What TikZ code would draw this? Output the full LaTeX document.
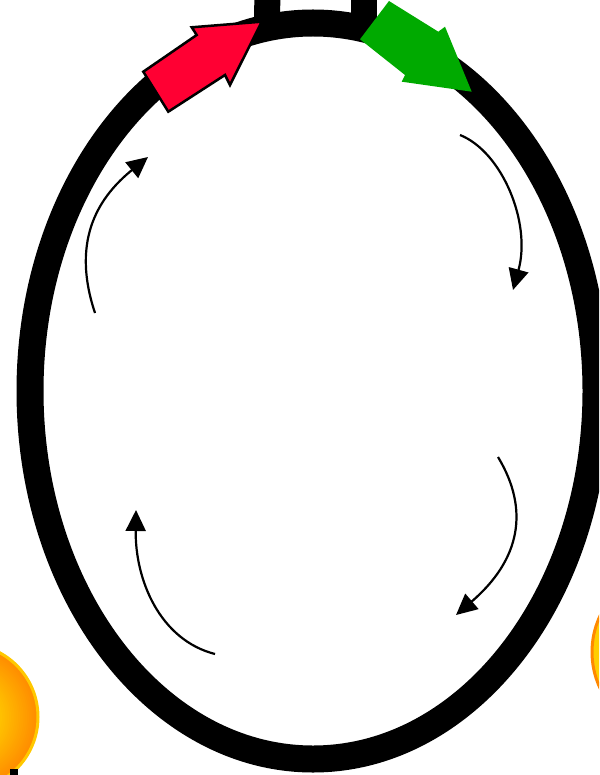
\documentclass[tikz,border=0pt]{standalone}
\usetikzlibrary{arrows.meta}
\definecolor{redarrow}{RGB}{255,0,51}
\definecolor{greenarrow}{RGB}{0,170,0}
\definecolor{orbyellow}{RGB}{255,192,0}
\definecolor{orborange}{RGB}{255,140,0}
\definecolor{orbrim}{RGB}{255,200,0}
\definecolor{orbrimorange}{RGB}{255,136,0}
\definecolor{orbfill}{RGB}{255,206,0}
\tikzset{
  ring/.style={line width=27pt, black},
  handle/.style={line width=26pt, black},
  flow/.style={line width=2.2pt, black, -{Triangle[length=21pt,width=20pt]}},
  redblock/.style={fill=redarrow, draw=black, line width=2.5pt, line join=miter},
  greenblock/.style={fill=greenarrow},
}
\begin{document}
\begin{tikzpicture}[x=1pt,y=-1pt]
\useasboundingbox (0,0) rectangle (599,775);
\clip (0,0) rectangle (599,775);
% orbs
\foreach \k in {0,...,20}{
  \pgfmathsetmacro\orbr{73-1.8*\k}
  \pgfmathtruncatemacro\orbp{5*\k}
  \fill[orbyellow!\orbp!orborange] (-35,717) circle (\orbr);
}
\draw[orbrim, line width=3pt] (-35,717) circle (73);
\fill[black] (10,769) rectangle (18,776);
\draw[fill=orbfill, draw=orbrimorange, line width=3pt] (677,652) circle (85);
% ring and handle
\draw[ring] (313,391) ellipse [x radius=283, y radius=368];
\draw[handle] (267.5,-20) -- (267,30);
\draw[handle] (364,-20) -- (364,30);
% block arrows
\filldraw[redblock] (261.7,21.7) -- (191.7,27.3) -- (196.7,35) -- (143.3,71.7)
  -- (168.3,111.7) -- (225,75) -- (230,85) -- cycle;
\fill[greenblock] (360,39.3) -- (389,1) -- (438.3,31.7) -- (445,26.7)
  -- (471.7,91.7) -- (401.7,81.7) -- (405,75) -- cycle;
% flow arrows
\coordinate (a1s) at (95,313);
\coordinate (a1e) at (148,157);
\coordinate (a2s) at (460,135);
\coordinate (a2e) at (513,290);
\coordinate (a3s) at (498,457);
\coordinate (a3e) at (456,615);
\coordinate (a4s) at (215,654);
\coordinate (a4e) at (136,510);
\draw[flow] (a1s) .. controls (69.7,237.1) and (101.4,194.9) .. (a1e);
\draw[flow] (a2s) .. controls (501.9,151.7) and (531.6,222.5) .. (a2e);
\draw[flow] (a3s) .. controls (530,510) and (520,560) .. (a3e);
\draw[flow] (a4s) .. controls (160,640) and (135,580) .. (a4e);
\end{tikzpicture}
\end{document}
